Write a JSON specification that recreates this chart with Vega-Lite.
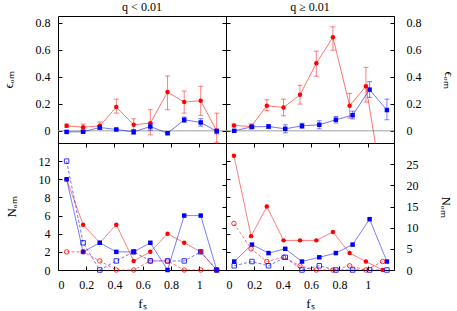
{
  "$schema": "https://vega.github.io/schema/vega-lite/v6.json",
  "padding": {"left": 1, "top": 0, "right": 0, "bottom": 0},
  "background": "white",
  "config": {
    "view": {"stroke": "black", "strokeWidth": 1},
    "font": "Liberation Serif",
    "axis": {"domain": false, "grid": false, "labelFont": "Liberation Serif", "labelFontSize": 12, "labelColor": "black", "tickColor": "black", "tickWidth": 1, "titleFont": "Liberation Serif", "titleFontSize": 13, "titleFontWeight": "normal", "titleColor": "black"},
    "title": {"font": "Liberation Serif", "fontSize": 12, "fontWeight": "normal", "color": "black"}
  },
  "datasets": {
    "eps": [
      {"q": "lt", "s": "red", "x": 0.061, "y": 0.037, "lo": 0.025, "hi": 0.05},
      {"q": "lt", "s": "red", "x": 0.178, "y": 0.027, "lo": 0.005, "hi": 0.05},
      {"q": "lt", "s": "red", "x": 0.296, "y": 0.037, "lo": 0.01, "hi": 0.066},
      {"q": "lt", "s": "red", "x": 0.413, "y": 0.176, "lo": 0.131, "hi": 0.235},
      {"q": "lt", "s": "red", "x": 0.536, "y": 0.045, "lo": 0.002, "hi": 0.089},
      {"q": "lt", "s": "red", "x": 0.654, "y": 0.057, "lo": -0.03, "hi": 0.156},
      {"q": "lt", "s": "red", "x": 0.776, "y": 0.287, "lo": 0.156, "hi": 0.406},
      {"q": "lt", "s": "red", "x": 0.894, "y": 0.213, "lo": 0.131, "hi": 0.295},
      {"q": "lt", "s": "red", "x": 1.011, "y": 0.223, "lo": 0.114, "hi": 0.33},
      {"q": "lt", "s": "red", "x": 1.124, "y": 0.0, "lo": -0.085, "hi": 0.131},
      {"q": "lt", "s": "blue", "x": 0.061, "y": -0.008, "lo": -0.016, "hi": 0.0},
      {"q": "lt", "s": "blue", "x": 0.178, "y": -0.007, "lo": -0.015, "hi": 0.001},
      {"q": "lt", "s": "blue", "x": 0.296, "y": 0.025, "lo": 0.012, "hi": 0.038},
      {"q": "lt", "s": "blue", "x": 0.413, "y": 0.01, "lo": 0.002, "hi": 0.018},
      {"q": "lt", "s": "blue", "x": 0.536, "y": -0.008, "lo": -0.026, "hi": 0.01},
      {"q": "lt", "s": "blue", "x": 0.654, "y": 0.032, "lo": 0.005, "hi": 0.06},
      {"q": "lt", "s": "blue", "x": 0.776, "y": -0.018, "lo": -0.022, "hi": -0.014},
      {"q": "lt", "s": "blue", "x": 0.894, "y": 0.082, "lo": 0.062, "hi": 0.102},
      {"q": "lt", "s": "blue", "x": 1.011, "y": 0.062, "lo": 0.035, "hi": 0.09},
      {"q": "lt", "s": "blue", "x": 1.124, "y": -0.003, "lo": -0.022, "hi": 0.015},
      {"q": "ge", "s": "red", "x": 0.056, "y": 0.04, "lo": 0.03, "hi": 0.05},
      {"q": "ge", "s": "red", "x": 0.177, "y": 0.032, "lo": 0.012, "hi": 0.052},
      {"q": "ge", "s": "red", "x": 0.288, "y": 0.186, "lo": 0.149, "hi": 0.23},
      {"q": "ge", "s": "red", "x": 0.406, "y": 0.173, "lo": 0.111, "hi": 0.235},
      {"q": "ge", "s": "red", "x": 0.522, "y": 0.267, "lo": 0.198, "hi": 0.337},
      {"q": "ge", "s": "red", "x": 0.637, "y": 0.5, "lo": 0.404, "hi": 0.59},
      {"q": "ge", "s": "red", "x": 0.754, "y": 0.693, "lo": 0.597, "hi": 0.77},
      {"q": "ge", "s": "red", "x": 0.872, "y": 0.186, "lo": 0.094, "hi": 0.277},
      {"q": "ge", "s": "red", "x": 0.987, "y": 0.33, "lo": 0.213, "hi": 0.47},
      {"q": "ge", "s": "red", "x": 1.105, "y": -0.42, "lo": -0.6, "hi": -0.25},
      {"q": "ge", "s": "blue", "x": 0.058, "y": 0.0, "lo": -0.005, "hi": 0.005},
      {"q": "ge", "s": "blue", "x": 0.183, "y": 0.03, "lo": 0.02, "hi": 0.04},
      {"q": "ge", "s": "blue", "x": 0.3, "y": 0.032, "lo": 0.018, "hi": 0.046},
      {"q": "ge", "s": "blue", "x": 0.418, "y": 0.015, "lo": -0.015, "hi": 0.045},
      {"q": "ge", "s": "blue", "x": 0.536, "y": 0.037, "lo": 0.018, "hi": 0.056},
      {"q": "ge", "s": "blue", "x": 0.658, "y": 0.045, "lo": 0.015, "hi": 0.075},
      {"q": "ge", "s": "blue", "x": 0.775, "y": 0.082, "lo": 0.058, "hi": 0.106},
      {"q": "ge", "s": "blue", "x": 0.893, "y": 0.116, "lo": 0.088, "hi": 0.146},
      {"q": "ge", "s": "blue", "x": 1.013, "y": 0.305, "lo": 0.248, "hi": 0.364},
      {"q": "ge", "s": "blue", "x": 1.135, "y": 0.154, "lo": 0.082, "hi": 0.235}
    ],
    "cnt": [
      {"q": "lt", "s": "red", "t": "F", "x": 0.061, "n": 10},
      {"q": "lt", "s": "red", "t": "F", "x": 0.178, "n": 5},
      {"q": "lt", "s": "red", "t": "F", "x": 0.296, "n": 3},
      {"q": "lt", "s": "red", "t": "F", "x": 0.413, "n": 5},
      {"q": "lt", "s": "red", "t": "F", "x": 0.536, "n": 1},
      {"q": "lt", "s": "red", "t": "F", "x": 0.654, "n": 2},
      {"q": "lt", "s": "red", "t": "F", "x": 0.776, "n": 4},
      {"q": "lt", "s": "red", "t": "F", "x": 0.894, "n": 3},
      {"q": "lt", "s": "red", "t": "F", "x": 1.011, "n": 2},
      {"q": "lt", "s": "red", "t": "F", "x": 1.124, "n": 0},
      {"q": "lt", "s": "red", "t": "O", "x": 0.061, "n": 2},
      {"q": "lt", "s": "red", "t": "O", "x": 0.178, "n": 2},
      {"q": "lt", "s": "red", "t": "O", "x": 0.296, "n": 1},
      {"q": "lt", "s": "red", "t": "O", "x": 0.413, "n": 0},
      {"q": "lt", "s": "red", "t": "O", "x": 0.536, "n": 0},
      {"q": "lt", "s": "red", "t": "O", "x": 0.654, "n": 1},
      {"q": "lt", "s": "red", "t": "O", "x": 0.776, "n": 1},
      {"q": "lt", "s": "red", "t": "O", "x": 0.894, "n": 0},
      {"q": "lt", "s": "red", "t": "O", "x": 1.011, "n": 0},
      {"q": "lt", "s": "red", "t": "O", "x": 1.124, "n": 0},
      {"q": "lt", "s": "blue", "t": "F", "x": 0.061, "n": 10},
      {"q": "lt", "s": "blue", "t": "F", "x": 0.178, "n": 2},
      {"q": "lt", "s": "blue", "t": "F", "x": 0.296, "n": 3},
      {"q": "lt", "s": "blue", "t": "F", "x": 0.413, "n": 2},
      {"q": "lt", "s": "blue", "t": "F", "x": 0.536, "n": 2},
      {"q": "lt", "s": "blue", "t": "F", "x": 0.654, "n": 3},
      {"q": "lt", "s": "blue", "t": "F", "x": 0.776, "n": 0},
      {"q": "lt", "s": "blue", "t": "F", "x": 0.894, "n": 6},
      {"q": "lt", "s": "blue", "t": "F", "x": 1.011, "n": 6},
      {"q": "lt", "s": "blue", "t": "F", "x": 1.124, "n": 0},
      {"q": "lt", "s": "blue", "t": "O", "x": 0.061, "n": 12},
      {"q": "lt", "s": "blue", "t": "O", "x": 0.178, "n": 3},
      {"q": "lt", "s": "blue", "t": "O", "x": 0.296, "n": 0},
      {"q": "lt", "s": "blue", "t": "O", "x": 0.413, "n": 1},
      {"q": "lt", "s": "blue", "t": "O", "x": 0.536, "n": 2},
      {"q": "lt", "s": "blue", "t": "O", "x": 0.654, "n": 1},
      {"q": "lt", "s": "blue", "t": "O", "x": 0.776, "n": 1},
      {"q": "lt", "s": "blue", "t": "O", "x": 0.894, "n": 1},
      {"q": "lt", "s": "blue", "t": "O", "x": 1.011, "n": 2},
      {"q": "lt", "s": "blue", "t": "O", "x": 1.124, "n": 0},
      {"q": "ge", "s": "red", "t": "F", "x": 0.056, "n": 27},
      {"q": "ge", "s": "red", "t": "F", "x": 0.177, "n": 8},
      {"q": "ge", "s": "red", "t": "F", "x": 0.288, "n": 15},
      {"q": "ge", "s": "red", "t": "F", "x": 0.406, "n": 7},
      {"q": "ge", "s": "red", "t": "F", "x": 0.522, "n": 7},
      {"q": "ge", "s": "red", "t": "F", "x": 0.637, "n": 7},
      {"q": "ge", "s": "red", "t": "F", "x": 0.754, "n": 9},
      {"q": "ge", "s": "red", "t": "F", "x": 0.872, "n": 4},
      {"q": "ge", "s": "red", "t": "F", "x": 0.987, "n": 2},
      {"q": "ge", "s": "red", "t": "F", "x": 1.105, "n": 0},
      {"q": "ge", "s": "red", "t": "O", "x": 0.056, "n": 11},
      {"q": "ge", "s": "red", "t": "O", "x": 0.177, "n": 5},
      {"q": "ge", "s": "red", "t": "O", "x": 0.288, "n": 2},
      {"q": "ge", "s": "red", "t": "O", "x": 0.406, "n": 3},
      {"q": "ge", "s": "red", "t": "O", "x": 0.522, "n": 1},
      {"q": "ge", "s": "red", "t": "O", "x": 0.637, "n": 0},
      {"q": "ge", "s": "red", "t": "O", "x": 0.754, "n": 0},
      {"q": "ge", "s": "red", "t": "O", "x": 0.872, "n": 1},
      {"q": "ge", "s": "red", "t": "O", "x": 0.987, "n": 0},
      {"q": "ge", "s": "red", "t": "O", "x": 1.105, "n": 2},
      {"q": "ge", "s": "blue", "t": "F", "x": 0.058, "n": 2},
      {"q": "ge", "s": "blue", "t": "F", "x": 0.183, "n": 6},
      {"q": "ge", "s": "blue", "t": "F", "x": 0.3, "n": 4},
      {"q": "ge", "s": "blue", "t": "F", "x": 0.418, "n": 5},
      {"q": "ge", "s": "blue", "t": "F", "x": 0.536, "n": 2},
      {"q": "ge", "s": "blue", "t": "F", "x": 0.658, "n": 3},
      {"q": "ge", "s": "blue", "t": "F", "x": 0.775, "n": 4},
      {"q": "ge", "s": "blue", "t": "F", "x": 0.893, "n": 6},
      {"q": "ge", "s": "blue", "t": "F", "x": 1.013, "n": 12},
      {"q": "ge", "s": "blue", "t": "F", "x": 1.135, "n": 2},
      {"q": "ge", "s": "blue", "t": "O", "x": 0.058, "n": 1},
      {"q": "ge", "s": "blue", "t": "O", "x": 0.183, "n": 2},
      {"q": "ge", "s": "blue", "t": "O", "x": 0.3, "n": 1},
      {"q": "ge", "s": "blue", "t": "O", "x": 0.418, "n": 3},
      {"q": "ge", "s": "blue", "t": "O", "x": 0.536, "n": 0},
      {"q": "ge", "s": "blue", "t": "O", "x": 0.658, "n": 1},
      {"q": "ge", "s": "blue", "t": "O", "x": 0.775, "n": 0},
      {"q": "ge", "s": "blue", "t": "O", "x": 0.893, "n": 0},
      {"q": "ge", "s": "blue", "t": "O", "x": 1.013, "n": 0},
      {"q": "ge", "s": "blue", "t": "O", "x": 1.135, "n": 0}
    ]
  },
  "columns": 2,
  "spacing": 0,
  "bounds": "flush",
  "concat": [
        {
          "width": 168, "height": 127,
          "title": {"text": "q < 0.01", "offset": 2},
          "resolve": {"axis": {"y": "independent"}},
          "layer": [
            {"data": {"values": [{"z": 0}]}, "mark": {"type": "rule", "color": "#a0a0a0", "strokeWidth": 1},
             "encoding": {"y": {"field": "z", "type": "quantitative", "scale": {"domain": [-0.09, 0.85], "nice": false, "zero": false},
               "axis": {"orient": "left", "values": [0, 0.2, 0.4, 0.6, 0.8], "format": "~g", "tickSize": -4, "labelPadding": 12, "title": "ϵₒₘ", "titlePadding": 20}}}},
            {"data": {"name": "eps"}, "transform": [{"filter": "datum.q === 'lt'"}], "mark": {"type": "line", "strokeWidth": 1, "opacity": 0.55, "clip": true},
             "encoding": {"x": {"field": "x", "type": "quantitative", "scale": {"domain": [0, 1.19], "nice": false, "zero": false},
               "axis": {"orient": "top", "values": [0, 0.2, 0.4, 0.6, 0.8, 1], "tickSize": 4, "labels": false, "title": null}},
               "y": {"field": "y", "type": "quantitative", "axis": {"orient": "right", "values": [0, 0.2, 0.4, 0.6, 0.8], "tickSize": 4, "labels": false, "title": null}},
               "color": {"field": "s", "type": "nominal", "scale": {"domain": ["red", "blue"], "range": ["#ff0000", "#0000ff"]}, "legend": null}}},
            {"data": {"name": "eps"}, "transform": [{"filter": "datum.q === 'lt'"}], "mark": {"type": "rule", "strokeWidth": 1, "opacity": 0.5, "clip": true},
             "encoding": {"x": {"field": "x", "type": "quantitative", "axis": null}, "y": {"field": "lo", "type": "quantitative", "axis": null}, "y2": {"field": "hi"},
               "color": {"field": "s", "type": "nominal", "legend": null}}},
            {"data": {"name": "eps"}, "transform": [{"filter": "datum.q === 'lt'"}], "mark": {"type": "tick", "orient": "horizontal", "size": 5, "thickness": 1, "opacity": 0.5, "clip": true},
             "encoding": {"x": {"field": "x", "type": "quantitative", "axis": null}, "y": {"field": "lo", "type": "quantitative", "axis": null},
               "color": {"field": "s", "type": "nominal", "legend": null}}},
            {"data": {"name": "eps"}, "transform": [{"filter": "datum.q === 'lt'"}], "mark": {"type": "tick", "orient": "horizontal", "size": 5, "thickness": 1, "opacity": 0.5, "clip": true},
             "encoding": {"x": {"field": "x", "type": "quantitative", "axis": null}, "y": {"field": "hi", "type": "quantitative", "axis": null},
               "color": {"field": "s", "type": "nominal", "legend": null}}},
            {"data": {"name": "eps"}, "transform": [{"filter": "datum.q === 'lt'"}], "mark": {"type": "point", "filled": true, "size": 20, "opacity": 1, "clip": true},
             "encoding": {"x": {"field": "x", "type": "quantitative", "axis": null}, "y": {"field": "y", "type": "quantitative", "axis": null},
               "color": {"field": "s", "type": "nominal", "legend": null},
               "shape": {"field": "s", "type": "nominal", "scale": {"domain": ["red", "blue"], "range": ["circle", "square"]}, "legend": null}}}
          ]
        },
        {
          "width": 168, "height": 127,
          "title": {"text": "q ≥ 0.01", "offset": 2},
          "resolve": {"axis": {"y": "independent"}},
          "layer": [
            {"data": {"values": [{"z": 0}]}, "mark": {"type": "rule", "color": "#a0a0a0", "strokeWidth": 1},
             "encoding": {"y": {"field": "z", "type": "quantitative", "scale": {"domain": [-0.09, 0.85], "nice": false, "zero": false},
               "axis": {"orient": "right", "values": [0, 0.2, 0.4, 0.6, 0.8], "format": "~g", "tickSize": -4, "labelPadding": 16, "title": "ϵₒₘ", "titlePadding": 20}}}},
            {"data": {"name": "eps"}, "transform": [{"filter": "datum.q === 'ge'"}], "mark": {"type": "line", "strokeWidth": 1, "opacity": 0.55, "clip": true},
             "encoding": {"x": {"field": "x", "type": "quantitative", "scale": {"domain": [0, 1.185], "nice": false, "zero": false},
               "axis": {"orient": "top", "values": [0, 0.2, 0.4, 0.6, 0.8, 1], "tickSize": 4, "labels": false, "title": null}},
               "y": {"field": "y", "type": "quantitative", "axis": {"orient": "left", "values": [0, 0.2, 0.4, 0.6, 0.8], "tickSize": 4, "labels": false, "title": null}},
               "color": {"field": "s", "type": "nominal", "scale": {"domain": ["red", "blue"], "range": ["#ff0000", "#0000ff"]}, "legend": null}}},
            {"data": {"name": "eps"}, "transform": [{"filter": "datum.q === 'ge'"}], "mark": {"type": "rule", "strokeWidth": 1, "opacity": 0.5, "clip": true},
             "encoding": {"x": {"field": "x", "type": "quantitative", "axis": null}, "y": {"field": "lo", "type": "quantitative", "axis": null}, "y2": {"field": "hi"},
               "color": {"field": "s", "type": "nominal", "legend": null}}},
            {"data": {"name": "eps"}, "transform": [{"filter": "datum.q === 'ge'"}], "mark": {"type": "tick", "orient": "horizontal", "size": 5, "thickness": 1, "opacity": 0.5, "clip": true},
             "encoding": {"x": {"field": "x", "type": "quantitative", "axis": null}, "y": {"field": "lo", "type": "quantitative", "axis": null},
               "color": {"field": "s", "type": "nominal", "legend": null}}},
            {"data": {"name": "eps"}, "transform": [{"filter": "datum.q === 'ge'"}], "mark": {"type": "tick", "orient": "horizontal", "size": 5, "thickness": 1, "opacity": 0.5, "clip": true},
             "encoding": {"x": {"field": "x", "type": "quantitative", "axis": null}, "y": {"field": "hi", "type": "quantitative", "axis": null},
               "color": {"field": "s", "type": "nominal", "legend": null}}},
            {"data": {"name": "eps"}, "transform": [{"filter": "datum.q === 'ge'"}], "mark": {"type": "point", "filled": true, "size": 20, "opacity": 1, "clip": true},
             "encoding": {"x": {"field": "x", "type": "quantitative", "axis": null}, "y": {"field": "y", "type": "quantitative", "axis": null},
               "color": {"field": "s", "type": "nominal", "legend": null},
               "shape": {"field": "s", "type": "nominal", "scale": {"domain": ["red", "blue"], "range": ["circle", "square"]}, "legend": null}}}
          ]
        },
        {
          "width": 168, "height": 127,
          "resolve": {"axis": {"x": "independent", "y": "independent"}},
          "layer": [
            {"data": {"name": "cnt"}, "transform": [{"filter": "datum.q === 'lt'"}], "mark": {"type": "line", "strokeWidth": 1, "opacity": 0.55},
             "encoding": {"x": {"field": "x", "type": "quantitative", "scale": {"domain": [0, 1.19], "nice": false, "zero": false},
               "axis": {"orient": "bottom", "values": [0, 0.2, 0.4, 0.6, 0.8, 1], "format": "~g", "tickSize": -4, "labelPadding": 13, "title": "fₛ", "titlePadding": 7}},
               "y": {"field": "n", "type": "quantitative", "scale": {"domain": [0, 14], "nice": false, "zero": false},
                 "axis": {"orient": "left", "values": [0, 2, 4, 6, 8, 10, 12], "format": "d", "tickSize": -4, "labelPadding": 12, "title": "Nₒₘ", "titlePadding": 20}},
               "color": {"field": "s", "type": "nominal", "scale": {"domain": ["red", "blue"], "range": ["#ff0000", "#0000ff"]}, "legend": null},
               "strokeDash": {"field": "t", "type": "nominal", "scale": {"domain": ["F", "O"], "range": [[1, 0], [3, 2]]}, "legend": null}}},
            {"data": {"name": "cnt"}, "transform": [{"filter": "datum.q === 'lt' && datum.t === 'F'"}], "mark": {"type": "point", "filled": true, "size": 20, "opacity": 1},
             "encoding": {"x": {"field": "x", "type": "quantitative", "axis": {"orient": "top", "values": [0, 0.2, 0.4, 0.6, 0.8, 1], "tickSize": -4, "labels": false, "title": null}},
               "y": {"field": "n", "type": "quantitative", "axis": {"orient": "right", "values": [0, 2, 4, 6, 8, 10, 12], "tickSize": 4, "labels": false, "title": null}},
               "color": {"field": "s", "type": "nominal", "legend": null},
               "shape": {"field": "s", "type": "nominal", "scale": {"domain": ["red", "blue"], "range": ["circle", "square"]}, "legend": null}}},
            {"data": {"name": "cnt"}, "transform": [{"filter": "datum.q === 'lt' && datum.t === 'O'"}], "mark": {"type": "point", "filled": false, "size": 20, "strokeWidth": 1, "opacity": 0.8},
             "encoding": {"x": {"field": "x", "type": "quantitative", "axis": null},
               "y": {"field": "n", "type": "quantitative", "axis": null},
               "color": {"field": "s", "type": "nominal", "legend": null},
               "shape": {"field": "s", "type": "nominal", "legend": null}}}
          ]
        },
        {
          "width": 168, "height": 127,
          "resolve": {"axis": {"x": "independent", "y": "independent"}},
          "layer": [
            {"data": {"name": "cnt"}, "transform": [{"filter": "datum.q === 'ge'"}], "mark": {"type": "line", "strokeWidth": 1, "opacity": 0.55},
             "encoding": {"x": {"field": "x", "type": "quantitative", "scale": {"domain": [0, 1.185], "nice": false, "zero": false},
               "axis": {"orient": "bottom", "values": [0, 0.2, 0.4, 0.6, 0.8, 1], "format": "~g", "tickSize": -4, "labelPadding": 13, "title": "fₛ", "titlePadding": 7}},
               "y": {"field": "n", "type": "quantitative", "scale": {"domain": [0, 30], "nice": false, "zero": false},
                 "axis": {"orient": "right", "values": [0, 5, 10, 15, 20, 25], "format": "d", "tickSize": -4, "labelPadding": 16, "title": "Nₒₘ", "titlePadding": 20}},
               "color": {"field": "s", "type": "nominal", "scale": {"domain": ["red", "blue"], "range": ["#ff0000", "#0000ff"]}, "legend": null},
               "strokeDash": {"field": "t", "type": "nominal", "scale": {"domain": ["F", "O"], "range": [[1, 0], [3, 2]]}, "legend": null}}},
            {"data": {"name": "cnt"}, "transform": [{"filter": "datum.q === 'ge' && datum.t === 'F'"}], "mark": {"type": "point", "filled": true, "size": 20, "opacity": 1},
             "encoding": {"x": {"field": "x", "type": "quantitative", "axis": {"orient": "top", "values": [0, 0.2, 0.4, 0.6, 0.8, 1], "tickSize": -4, "labels": false, "title": null}},
               "y": {"field": "n", "type": "quantitative", "axis": {"orient": "left", "values": [0, 5, 10, 15, 20, 25], "tickSize": 4, "labels": false, "title": null}},
               "color": {"field": "s", "type": "nominal", "legend": null},
               "shape": {"field": "s", "type": "nominal", "scale": {"domain": ["red", "blue"], "range": ["circle", "square"]}, "legend": null}}},
            {"data": {"name": "cnt"}, "transform": [{"filter": "datum.q === 'ge' && datum.t === 'O'"}], "mark": {"type": "point", "filled": false, "size": 20, "strokeWidth": 1, "opacity": 0.8},
             "encoding": {"x": {"field": "x", "type": "quantitative", "axis": null},
               "y": {"field": "n", "type": "quantitative", "axis": null},
               "color": {"field": "s", "type": "nominal", "legend": null},
               "shape": {"field": "s", "type": "nominal", "legend": null}}}
          ]
        }
  ]
}
